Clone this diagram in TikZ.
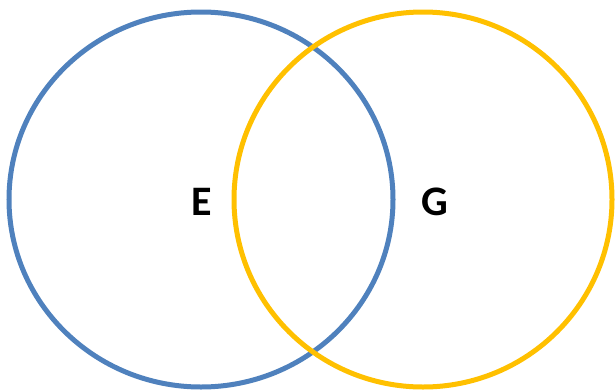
\documentclass[tikz,border=0pt]{standalone}
\usepackage{fontspec}
\setmainfont{Carlito}
\definecolor{vblue}{HTML}{4F81BD}
\definecolor{vyellow}{HTML}{FFC000}
\tikzset{
  setring/.style={line width=5pt},
  setlabel/.style={font=\fontsize{42}{42}\selectfont\bfseries, text=black, inner sep=0pt}
}
\begin{document}
\begin{tikzpicture}[x=1pt,y=-1pt]
\useasboundingbox (0,0) rectangle (615,391);
\draw[setring, vblue] (201,199.5) ellipse [x radius=192, y radius=187.5];
\draw[setring, vyellow] (423,199.5) ellipse [x radius=189, y radius=187.5];
\node[setlabel] (E) at (202,201.5) {E};
\node[setlabel] (G) at (435,201.5) {G};
\end{tikzpicture}
\end{document}
